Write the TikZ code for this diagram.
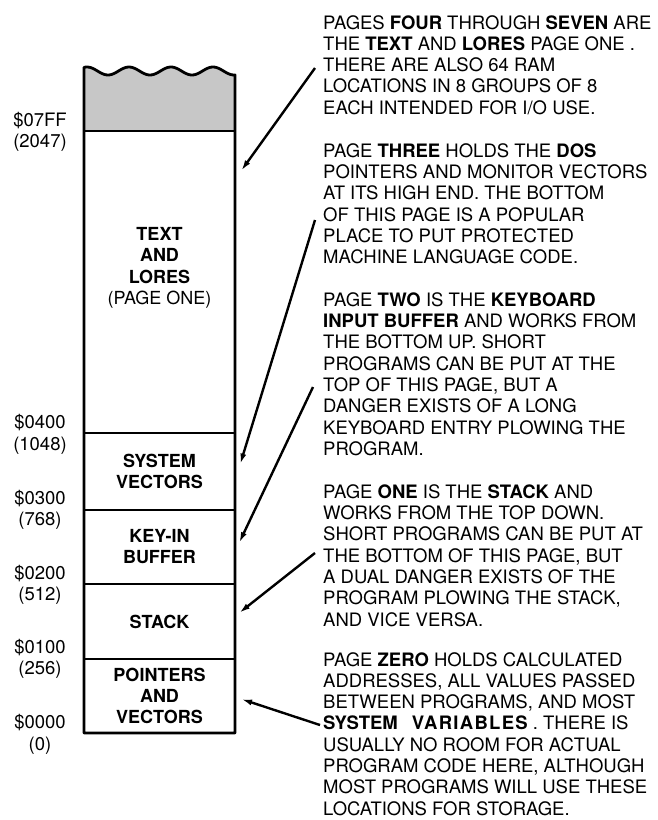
\documentclass[tikz,border=0pt]{standalone}
\usepackage{fontspec}
\setmainfont{TeX Gyre Heros}
\usetikzlibrary{arrows.meta,calc}
\begin{document}
\begin{tikzpicture}[x=1pt,y=-1pt,
  seg/.style={draw, line width=2.2pt, minimum width=151pt, inner sep=0pt, align=center,
              font=\bfseries\fontsize{18}{21}\selectfont},
  addr/.style={font=\fontsize{18.5}{21}\selectfont, inner sep=0pt},
  note/.style={anchor=north west, align=left, inner sep=0pt,
               font=\fontsize{18.5}{21.3}\selectfont},
  ptr/.style={-{Latex[length=11pt,width=6pt]}, line width=2.4pt}]
\useasboundingbox (0,0) rectangle (658,820);

% grey top with wavy edge
\fill[black!22] (84,131) -- plot[domain=84:235,samples=90] (\x,{71-4*cos((\x-87)/42*360)}) -- (235,131) -- cycle;

% segments
\node[seg, minimum height=302pt] (textseg) at (159.5,282) {};
\node[font=\bfseries\fontsize{18}{21.4}\selectfont, align=center, inner sep=0pt] (textlbl) at (159.5,268)
  {TEXT\\AND\\LORES\\\mdseries(PAGE ONE)};
\node[seg, minimum height=77pt] (sysvec) at (159.5,471.5) {SYSTEM\\VECTORS};
\node[seg, minimum height=74pt] (keyin) at (159.5,547) {KEY-IN\\BUFFER};
\node[seg, minimum height=75pt] (stack) at (159.5,621.5) {STACK};
\node[seg, minimum height=74pt] (ptrs) at (159.5,696) {POINTERS\\AND\\VECTORS};

% outer outline
\draw[line width=2.8pt, line join=round] (84,733) -- plot[domain=84:235,samples=90] (\x,{71-4*cos((\x-87)/42*360)}) -- (235,733) -- cycle;

% address labels
\node[addr] (h07ff) at (40,121) {\$07FF};
\node[addr] (d2047) at (40,143) {(2047)};
\node[addr] (h0400) at (40,423) {\$0400};
\node[addr] (d1048) at (40,446) {(1048)};
\node[addr] (h0300) at (40,499) {\$0300};
\node[addr] (d768) at (40,521) {(768)};
\node[addr] (h0200) at (40,574) {\$0200};
\node[addr] (d512) at (40,596) {(512)};
\node[addr] (h0100) at (40,648) {\$0100};
\node[addr] (d256) at (40,670) {(256)};
\node[addr] (h0000) at (40,723) {\$0000};
\node[addr] (d0) at (40,746) {(0)};

% notes
\node[note] (n1) at (323,15) {PAGES \textbf{FOUR} THROUGH \textbf{SEVEN} ARE\\
THE \textbf{TEXT} AND \textbf{LORES} PAGE ONE .\\
THERE ARE ALSO 64 RAM\\
LOCATIONS IN 8 GROUPS OF 8\\
EACH INTENDED FOR I/O USE.};
\node[note] (n2) at (323,143.2) {PAGE \textbf{THREE} HOLDS THE \textbf{DOS}\\
POINTERS AND MONITOR VECTORS\\
AT ITS HIGH END. THE BOTTOM\\
OF THIS PAGE IS A POPULAR\\
PLACE TO PUT PROTECTED\\
MACHINE LANGUAGE CODE.};
\node[note] (n3) at (323,292.3) {PAGE \textbf{TWO} IS THE \textbf{KEYBOARD}\\
\textbf{INPUT BUFFER} AND WORKS FROM\\
THE BOTTOM UP. SHORT\\
PROGRAMS CAN BE PUT AT THE\\
TOP OF THIS PAGE, BUT A\\
DANGER EXISTS OF A LONG\\
KEYBOARD ENTRY PLOWING THE\\
PROGRAM.};
\node[note] (n4) at (323,484.3) {PAGE \textbf{ONE} IS THE \textbf{STACK} AND\\
WORKS FROM THE TOP DOWN.\\
SHORT PROGRAMS CAN BE PUT AT\\
THE BOTTOM OF THIS PAGE, BUT\\
A DUAL DANGER EXISTS OF THE\\
PROGRAM PLOWING THE STACK,\\
AND VICE VERSA.};
\node[note] (n5) at (323,652) {PAGE \textbf{ZERO} HOLDS CALCULATED\\
ADDRESSES, ALL VALUES PASSED\\
BETWEEN PROGRAMS, AND MOST\\
\textbf{SYSTEM}\hspace{14pt}{\bfseries\addfontfeature{LetterSpace=7}VARIABLES} . THERE IS\\
USUALLY NO ROOM FOR ACTUAL\\
PROGRAM CODE HERE, ALTHOUGH\\
MOST PROGRAMS WILL USE THESE\\
LOCATIONS FOR STORAGE.};

% arrows
\coordinate (a1s) at (315,68);
\coordinate (a2s) at (315,220);
\coordinate (a3s) at (313,387);
\coordinate (a4s) at (315,553);
\coordinate (a5s) at (320,725);
\draw[ptr] (a1s) -- ($(textseg.north east)+(5,41)$);
\draw[ptr] (a2s) -- ($(sysvec.east)+(4,-7)$);
\draw[ptr] (a3s) -- ($(keyin.east)+(3,-4)$);
\draw[ptr] (a4s) -- ($(stack.east)+(3,-8.5)$);
\draw[ptr] (a5s) -- ($(ptrs.east)+(5,3)$);
\end{tikzpicture}
\end{document}
